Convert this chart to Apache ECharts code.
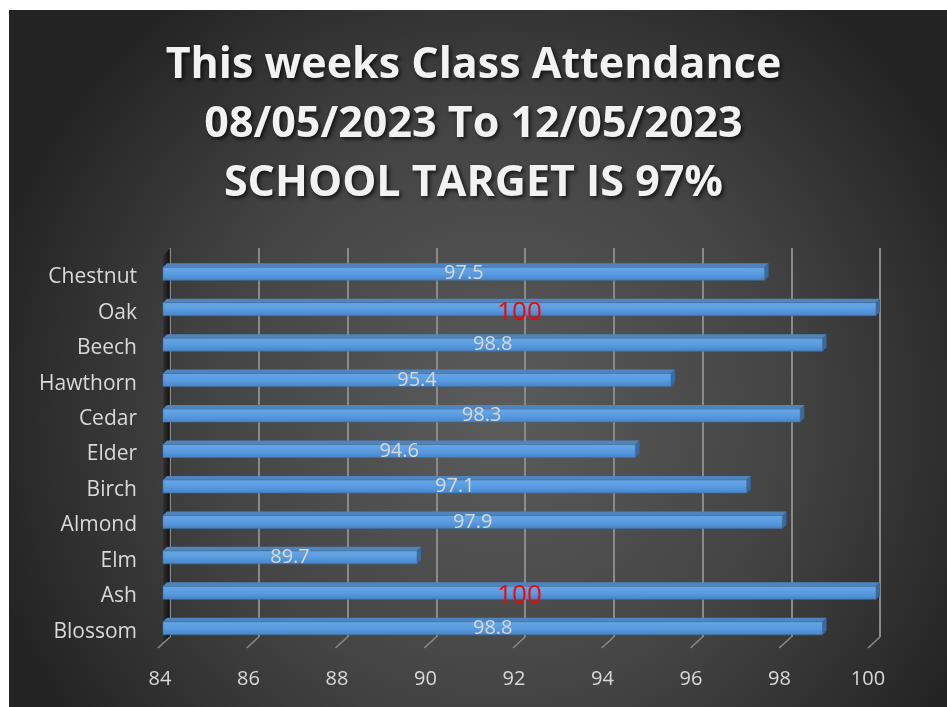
<!DOCTYPE html>
<html>
<head>
<meta charset="utf-8">
<script src="https://cdn.jsdelivr.net/npm/echarts@6/dist/echarts.min.js"></script>
<style>
  html, body { margin: 0; padding: 0; background: #ffffff; }
  #chart { width: 947px; height: 707px; }
</style>
</head>
<body>
<div id="chart"></div>
<script>
const classes = ['Chestnut', 'Oak', 'Beech', 'Hawthorn', 'Cedar', 'Elder', 'Birch', 'Almond', 'Elm', 'Ash', 'Blossom']
const attendance = [97.5, 100, 98.8, 95.4, 98.3, 94.6, 97.1, 97.9, 89.7, 100, 98.8]
const xTicks = [84, 86, 88, 90, 92, 94, 96, 98, 100]
const titleLines = ['This weeks Class Attendance', '08/05/2023 To 12/05/2023', 'SCHOOL TARGET IS 97%']

const chart = echarts.init(document.getElementById('chart'))
const FONT = '"Open Sans", sans-serif'
const DEPTH = 4

// 3d-ish bar: front face + top face + end face
const renderBar = (params, api) => {
  const val = api.value(0)
  const idx = api.value(1)
  const start = api.coord([84, idx])
  const end = api.coord([val, idx])
  const h = 13
  const x0 = start[0], x1 = end[0]
  const y0 = end[1] - h / 2
  const full = val >= 100
  return {
    type: 'group',
    children: [
      {
        type: 'polygon',
        shape: { points: [[x0, y0], [x0 + DEPTH, y0 - DEPTH], [x1 + DEPTH, y0 - DEPTH], [x1, y0]] },
        style: { fill: '#4f85bf' }
      },
      {
        type: 'polygon',
        shape: { points: [[x1, y0], [x1 + DEPTH, y0 - DEPTH], [x1 + DEPTH, y0 + h - DEPTH], [x1, y0 + h]] },
        style: { fill: '#3a6aa0' }
      },
      {
        type: 'rect',
        shape: { x: x0, y: y0, width: x1 - x0, height: h },
        style: {
          fill: new echarts.graphic.LinearGradient(0, 0, 0, 1, [
            { offset: 0, color: '#66a6e6' },
            { offset: 0.5, color: '#5a9ce0' },
            { offset: 1, color: '#4784c8' }
          ]),
          stroke: '#41719c',
          lineWidth: 0.6
        }
      },
      {
        type: 'text',
        style: {
          text: String(val),
          x: (x0 + x1) / 2,
          y: end[1] + (full ? 3 : 0),
          align: 'center',
          verticalAlign: 'middle',
          fill: full ? '#ff0000' : '#d9d9d9',
          fontSize: full ? 26 : 20,
          fontFamily: FONT
        }
      }
    ]
  }
}

// slanted floor ticks + left wall shadow, drawn on the back grid
const renderFloor = (params, api) => {
  const cs = params.coordSys
  const v = api.value(0)
  const p = api.coord([v, 0])
  const yb = cs.y + cs.height
  const children = [{
    type: 'line',
    shape: { x1: p[0], y1: yb, x2: p[0] - 12, y2: yb + 11 },
    style: { stroke: '#8a8a8a', lineWidth: 1.6 }
  }]
  if (params.dataIndex === 0) {
    children.unshift({
      type: 'polygon',
      shape: { points: [[cs.x, cs.y], [cs.x, yb], [cs.x - 7, yb + 8], [cs.x - 7, cs.y + 8]] },
      style: {
        fill: new echarts.graphic.LinearGradient(0, 0, 1, 0, [
          { offset: 0, color: 'rgba(0,0,0,0.15)' },
          { offset: 1, color: 'rgba(0,0,0,0.75)' }
        ])
      }
    })
  }
  return { type: 'group', children }
}

const option = {
  backgroundColor: '#ffffff',
  graphic: [{
    type: 'rect',
    z: -10,
    shape: { x: 9, y: 10, width: 938, height: 697 },
    style: {
      fill: new echarts.graphic.RadialGradient(0.52, 0.58, 0.75, [
        { offset: 0, color: '#5c5c5c' },
        { offset: 0.55, color: '#444444' },
        { offset: 1, color: '#242424' }
      ])
    }
  }],
  title: {
    text: titleLines.join('\n'),
    left: 'center',
    top: 31,
    textStyle: {
      color: '#f2f2f2',
      fontFamily: FONT,
      fontWeight: 'bold',
      fontSize: 43,
      lineHeight: 59,
      textShadowColor: 'rgba(0,0,0,0.75)',
      textShadowBlur: 4,
      textShadowOffsetX: 2,
      textShadowOffsetY: 2
    }
  },
  grid: [
    { left: 170, right: 67, top: 248, bottom: 70 },   // back wall
    { left: 163, right: 71, top: 256, bottom: 61 },   // bars
    { left: 160, right: 79, top: 248, bottom: 58 }    // tick labels
  ],
  xAxis: [
    {
      gridIndex: 0, type: 'value', min: 84, max: 100, interval: 2,
      axisLine: { show: false }, axisTick: { show: false }, axisLabel: { show: false },
      splitLine: { show: true, lineStyle: { color: '#8a8a8a', width: 2 } }
    },
    {
      gridIndex: 1, type: 'value', min: 84, max: 100, interval: 2,
      axisLine: { show: false }, axisTick: { show: false }, axisLabel: { show: false },
      splitLine: { show: false }
    },
    {
      gridIndex: 2, type: 'value', min: 84, max: 100, interval: 2,
      axisLine: { show: false }, axisTick: { show: false }, splitLine: { show: false },
      axisLabel: {
        color: '#d9d9d9', fontSize: 20, fontFamily: FONT, margin: 20,
        showMinLabel: true, showMaxLabel: true
      }
    }
  ],
  yAxis: [
    { gridIndex: 0, type: 'category', data: classes, inverse: true, show: false },
    {
      gridIndex: 1, type: 'category', data: classes, inverse: true,
      axisLine: { show: false }, axisTick: { show: false },
      axisLabel: {
        margin: 26,
        formatter: v => '{a|' + v + '}',
        rich: { a: { color: '#d9d9d9', fontSize: 21, fontFamily: FONT, padding: [7, 0, 0, 0] } }
      }
    },
    { gridIndex: 2, type: 'category', data: classes, inverse: true, show: false }
  ],
  series: [
    {
      type: 'custom',
      xAxisIndex: 0, yAxisIndex: 0,
      data: xTicks.map(t => [t]),
      encode: { x: 0 },
      renderItem: renderFloor,
      silent: true,
      z: 1
    },
    {
      type: 'custom',
      xAxisIndex: 1, yAxisIndex: 1,
      data: attendance.map((v, i) => [v, i]),
      encode: { x: 0, y: 1 },
      renderItem: renderBar,
      z: 5
    }
  ]
}

chart.setOption(option)
</script>
</body>
</html>
